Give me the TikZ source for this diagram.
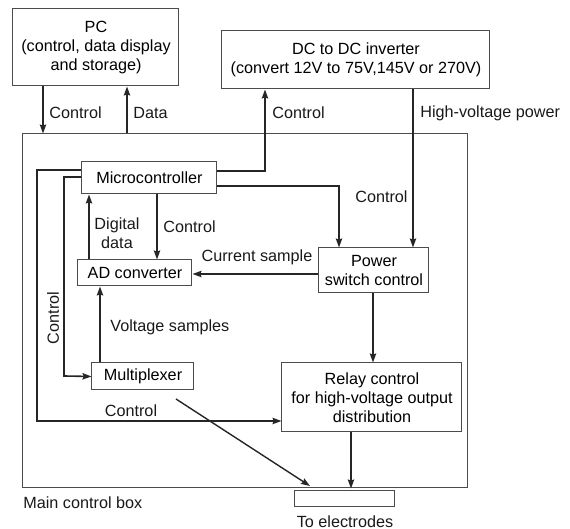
\documentclass[tikz,border=0pt]{standalone}
\usepackage{fontspec}
\setmainfont{Liberation Sans}
\usetikzlibrary{arrows.meta}

\begin{document}
\begin{tikzpicture}[x=0.5pt, y=-0.5pt,
    font=\fontsize{8.1pt}{9.6pt}\selectfont,
    blk/.style={draw=black!70, line width=0.5pt, align=center, inner sep=0pt},
    arr/.style={draw=black!85, line width=0.8pt, -{Stealth[length=4.5pt,width=3.2pt,inset=0.6pt]}},
    wire/.style={draw=black!85, line width=0.8pt},
    lbl/.style={inner sep=0pt, text=black!90}]
    \useasboundingbox (0,0) rectangle (570,529);

    \node[blk, minimum width=222.5pt, minimum height=177pt] (main) at (245.5,311) {};
    \node[blk, minimum width=83pt, minimum height=38.5pt] (pc) at (96,47.5) {PC\\(control, data display\\and storage)};
    \node[blk, minimum width=134pt, minimum height=29pt] (dc) at (356,60) {DC to DC inverter\\(convert 12V to 75V,145V or 270V)};
    \node[blk, minimum width=67.5pt, minimum height=16pt] (mcu) at (149.5,178) {Microcontroller};
    \node[blk, minimum width=57pt, minimum height=13pt] (adc) at (135,273) {AD converter};
    \node[blk, minimum width=55pt, minimum height=22.5pt] (psw) at (374,270.5) {Power\\switch control};
    \node[blk, minimum width=51pt, minimum height=13.5pt] (mux) at (143,376.5) {Multiplexer};
    \node[blk, minimum width=90pt, minimum height=34.5pt] (relay) at (372,397.5) {Relay control\\for high-voltage output\\distribution};
    \node[blk, minimum width=50pt, minimum height=8pt] (elec) at (345,499) {};

    \draw[arr] (43,0 |- pc.south) -- (43,0 |- main.north);
    \draw[arr] (127,0 |- main.north) -- (127,0 |- pc.south);
    \draw[arr] (mcu.east |- 0,171) -| (265,0 |- dc.south);
    \draw[arr] (413,0 |- dc.south) -- (413,0 |- psw.north);
    \draw[arr] (mcu.east |- 0,186) -| (339,0 |- psw.north);
    \draw[arr] (157,0 |- mcu.south) -- (157,0 |- adc.north);
    \draw[arr] (89,0 |- adc.north) -- (89,0 |- mcu.south);
    \draw[arr] (psw.west |- 0,274) -- (adc.east |- 0,274);
    \draw[arr] (100,0 |- mux.north) -- (100,0 |- adc.south);
    \draw[arr] (mcu.west |- 0,177) -| (64,376) -- (mux.west);
    \draw[arr] (mcu.west |- 0,170) -| (37,421) -- (relay.west |- 0,421);
    \draw[arr] (373,0 |- psw.south) -- (373,0 |- relay.north);
    \draw[arr] (351,0 |- relay.south) -- (351,0 |- main.south);
    \coordinate (dgs) at (176,399);
    \coordinate (dge) at (310,486);
    \draw[arr, line width=0.7pt] (dgs) -- (dge);

    \node[lbl, anchor=west] (l1) at (49,113) {Control};
    \node[lbl, anchor=west] (l2) at (133,113) {Data};
    \node[lbl, anchor=west] (l3) at (272,113) {Control};
    \node[lbl, anchor=west] (l4) at (420,113) {High-voltage power};
    \node[lbl, anchor=east] (l5) at (408,197) {Control};
    \node[lbl, anchor=west] (l6) at (163,227) {Control};
    \node[lbl, align=center] (l7) at (117,233) {Digital\\data};
    \node[lbl] (l8) at (257,257) {Current sample};
    \node[lbl, anchor=west] (l9) at (110,327) {Voltage samples};
    \node[lbl, rotate=90] (l10) at (53,318) {Control};
    \node[lbl] (l11) at (131,411) {Control};
    \node[lbl, anchor=west] (l12) at (23,503) {Main control box};
    \node[lbl] (l13) at (345,522) {To electrodes};
\end{tikzpicture}
\end{document}
